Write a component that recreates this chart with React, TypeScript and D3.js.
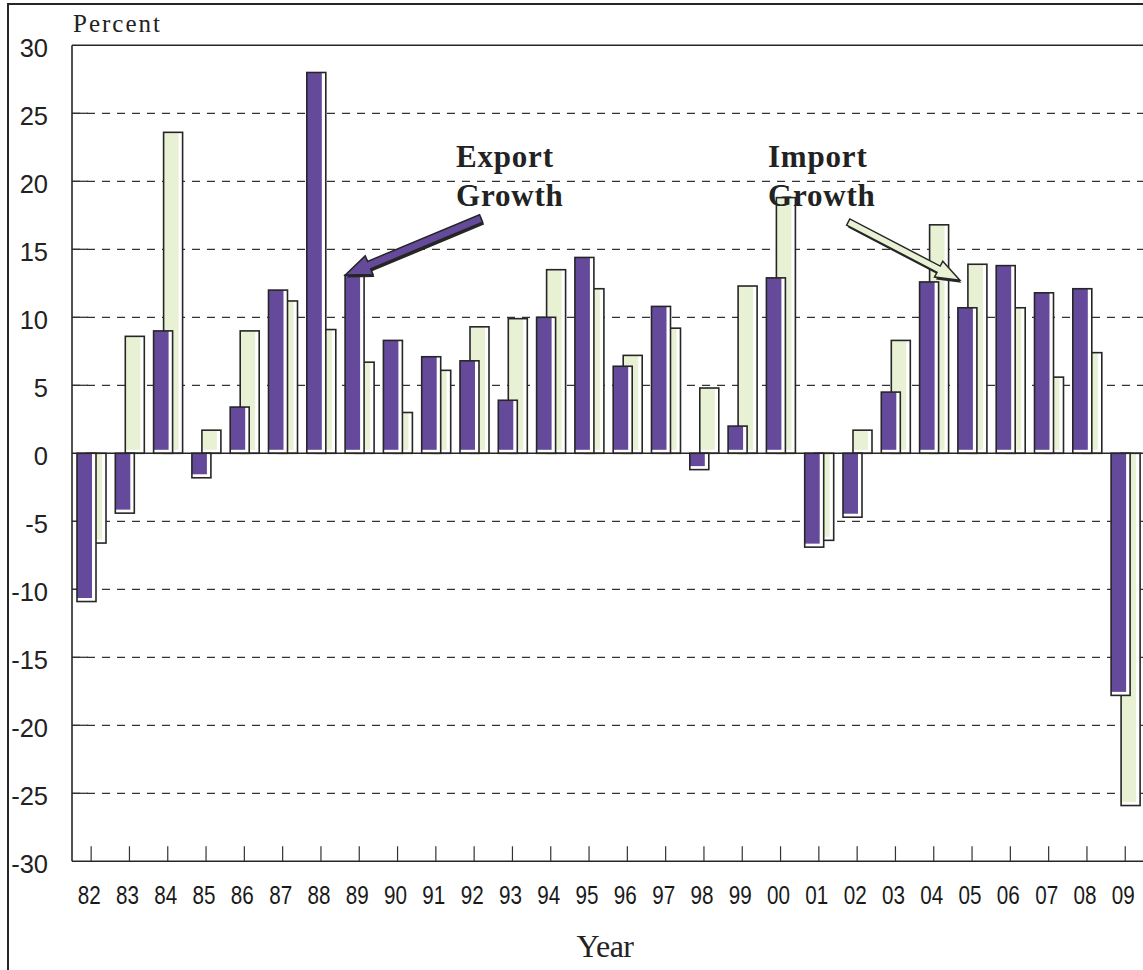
import React from "react";
import * as d3 from "d3";

const years = ["82","83","84","85","86","87","88","89","90","91","92","93","94","95","96","97","98","99","00","01","02","03","04","05","06","07","08","09"];
const exportGrowth = [-10.9, -4.4, 9.0, -1.8, 3.4, 12.0, 28.0, 13.1, 8.3, 7.1, 6.8, 3.9, 10.0, 14.4, 6.4, 10.8, -1.2, 2.0, 12.9, -6.9, -4.7, 4.5, 12.6, 10.7, 13.8, 11.8, 12.1, -17.8];
const importGrowth = [-6.6, 8.6, 23.6, 1.7, 9.0, 11.2, 9.1, 6.7, 3.0, 6.1, 9.3, 9.9, 13.5, 12.1, 7.2, 9.2, 4.8, 12.3, 18.8, -6.4, 1.7, 8.3, 16.8, 13.9, 10.7, 5.6, 7.4, -25.9];
const yTicks = [30, 25, 20, 15, 10, 5, 0, -5, -10, -15, -20, -25, -30];

const W = 1143;
const H = 970;
const left = 72;
const top = 45.3;
const bottom = 861.3;
const band = 38.3;

const PURPLE = "#654a9c";
const GREEN = "#e8f1d4";
const INK = "#262626";
const SANS = "'Liberation Sans', Arial, sans-serif";
const SERIF = "'Liberation Serif', 'Times New Roman', serif";

function arrowPoints(tx: number, ty: number, px: number, py: number, s: number, hl: number, hw: number) {
  const dx = px - tx, dy = py - ty;
  const L = Math.hypot(dx, dy);
  const ux = dx / L, uy = dy / L;
  const nx = -uy, ny = ux;
  const bx = px - ux * hl, by = py - uy * hl;
  const pts = [
    [tx + nx * s, ty + ny * s],
    [bx + nx * s, by + ny * s],
    [bx + nx * hw, by + ny * hw],
    [px, py],
    [bx - nx * hw, by - ny * hw],
    [bx - nx * s, by - ny * s],
    [tx - nx * s, ty - ny * s],
  ];
  return pts.map((p) => p.map((v) => v.toFixed(1)).join(",")).join(" ");
}

function Bar({ x, w, y0, y1, fill }: { x: number; w: number; y0: number; y1: number; fill: string }) {
  const topY = Math.min(y0, y1);
  const botY = Math.max(y0, y1);
  const h = botY - topY;
  return (
    <g>
      <rect x={x} y={topY} width={w} height={h} fill="#ffffff" stroke="none" />
      <rect x={x} y={topY} width={Math.max(0, w - 4)} height={Math.max(0, h - 3.5)} fill={fill} />
      <rect x={x} y={topY} width={w} height={h} fill="none" stroke={INK} strokeWidth={1.6} />
    </g>
  );
}

export default function App() {
  const x = d3.scaleBand<string>().domain(years).range([left, left + band * years.length]).padding(0);
  const y = d3.scaleLinear().domain([-30, 30]).range([bottom, top]);
  const y0 = y(0);
  const bw = 19;

  const expTip: [number, number] = [(x("89") as number) + 5, y(exportGrowth[7])];
  const impTip: [number, number] = [(x("05") as number) + 7, y(importGrowth[23]) + 16];

  return (
    <svg width={W} height={H} style={{ position: "absolute", left: 0, top: 0, display: "block", background: "#fff" }}>
      {/* outer frame */}
      <rect x={8} y={4} width={1300} height={1100} fill="none" stroke={INK} strokeWidth={2} />

      {/* gridlines */}
      {yTicks.filter((t) => t !== 30 && t !== 0 && t !== -30).map((t) => (
        <g key={"g" + t}>
          <line x1={left} x2={W} y1={y(t)} y2={y(t)} stroke="#333" strokeWidth={1.3} strokeDasharray="8,7" />
          <line x1={left} x2={left + 16} y1={y(t)} y2={y(t)} stroke="#333" strokeWidth={1.3} />
        </g>
      ))}

      {/* plot borders */}
      <line x1={left} x2={W} y1={top} y2={top} stroke={INK} strokeWidth={1.6} />
      <line x1={left} x2={left} y1={top} y2={bottom} stroke={INK} strokeWidth={1.6} />
      <line x1={left} x2={W} y1={bottom} y2={bottom} stroke={INK} strokeWidth={1.6} />

      {/* bars: import behind, export in front */}
      {years.map((yr, i) => (
        <Bar key={"i" + yr} x={(x(yr) as number) + 15} w={bw} y0={y0} y1={y(importGrowth[i])} fill={GREEN} />
      ))}
      {years.map((yr, i) => (
        <Bar key={"e" + yr} x={(x(yr) as number) + 5} w={bw} y0={y0} y1={y(exportGrowth[i])} fill={PURPLE} />
      ))}

      {/* zero line */}
      <line x1={left} x2={W} y1={y0} y2={y0} stroke={INK} strokeWidth={1.6} />

      {/* x ticks */}
      {years.map((yr) => {
        const cx = (x(yr) as number) + x.bandwidth() / 2;
        return <line key={"t" + yr} x1={cx} x2={cx} y1={bottom} y2={bottom - 15} stroke="#333" strokeWidth={1.2} />;
      })}

      {/* y tick labels */}
      {yTicks.map((t) => (
        <text key={"yl" + t} x={48} y={y(t) + 3} dy="0.35em" textAnchor="end" fontFamily={SANS} fontSize={25.5} fill="#222">
          {t}
        </text>
      ))}

      {/* x tick labels */}
      {years.map((yr) => {
        const cx = (x(yr) as number) + x.bandwidth() / 2 - 2;
        return (
          <text key={"xl" + yr} x={cx - 11.5} y={904} textLength={23} lengthAdjust="spacingAndGlyphs" fontFamily={SANS} fontSize={26} fill="#1a1a1a">
            {yr}
          </text>
        );
      })}

      {/* axis titles */}
      <text x={73} y={32} fontFamily={SERIF} fontSize={25} letterSpacing={2} fill="#222">Percent</text>
      <text x={605} y={957} textAnchor="middle" fontFamily={SERIF} fontSize={32} letterSpacing={-0.5} fill="#222">Year</text>

      {/* Export annotation */}
      <polygon points={arrowPoints(expTip[0] + 136 + 1.5, expTip[1] - 56.7 + 2.5, expTip[0] + 1.5, expTip[1] + 2.5, 4, 26, 10)} fill={INK} />
      <polygon points={arrowPoints(expTip[0] + 136, expTip[1] - 56.7, expTip[0], expTip[1], 4, 26, 10)} fill={PURPLE} stroke={INK} strokeWidth={1.5} strokeLinejoin="miter" />
      <text x={456} y={167} fontFamily={SERIF} fontWeight="bold" fontSize={31} letterSpacing={0.8} fill="#222">Export</text>
      <text x={456} y={206} fontFamily={SERIF} fontWeight="bold" fontSize={31} letterSpacing={0.8} fill="#222">Growth</text>

      {/* Import annotation */}
      <polygon points={arrowPoints(impTip[0] - 111.7 + 1.5, impTip[1] - 58.3 + 2.5, impTip[0] + 1.5, impTip[1] + 2.5, 3.5, 24, 9)} fill={INK} />
      <polygon points={arrowPoints(impTip[0] - 111.7, impTip[1] - 58.3, impTip[0], impTip[1], 3.5, 24, 9)} fill={GREEN} stroke={INK} strokeWidth={1.5} />
      <text x={768} y={167} fontFamily={SERIF} fontWeight="bold" fontSize={31} letterSpacing={0.8} fill="#222">Import</text>
      <text x={768} y={206} fontFamily={SERIF} fontWeight="bold" fontSize={31} letterSpacing={0.8} fill="#222">Growth</text>
    </svg>
  );
}
